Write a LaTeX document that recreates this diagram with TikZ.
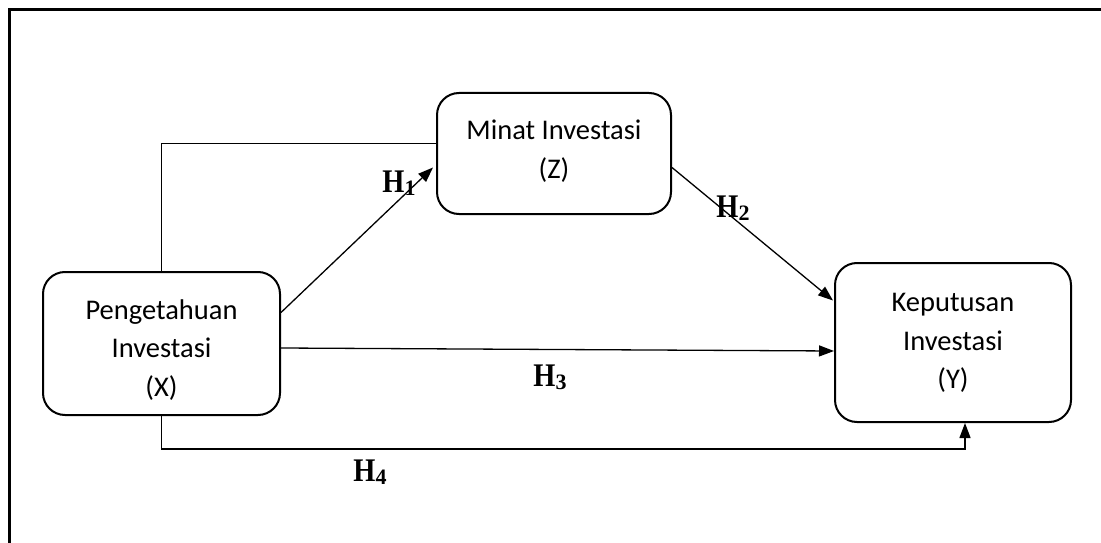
\documentclass[tikz,border=0pt]{standalone}
\usepackage{fontspec}
\usepackage{graphicx}
\setmainfont{Carlito}
\newfontfamily\hfont{Liberation Serif}
\usetikzlibrary{arrows.meta,calc}
\tikzset{
  varbox/.style={draw, line width=2pt, rounded corners=22pt, inner sep=0pt},
  boxtext/.style={align=center, inner sep=0pt, font=\fontsize{28.5}{38.5}\selectfont},
  conn/.style={line width=1.3pt},
  arr/.style={conn, -{Triangle[length=15pt,width=11pt]}},
  hlab/.style={inner sep=0pt, font=\hfont\bfseries\fontsize{33}{33}\selectfont}
}
\newcommand{\hl}[1]{\scalebox{0.86}[1]{H}\raisebox{-3pt}{\hfont\bfseries\fontsize{22}{22}\selectfont #1}}
\begin{document}
\begin{tikzpicture}[x=1pt,y=-1pt]
\useasboundingbox (0,0) rectangle (1101,543);
\draw[line width=2.6pt] (9.5,543) -- (9.5,9.5) -- (1101,9.5);
\node[varbox, minimum width=237pt, minimum height=143pt] (X) at (161.5,343.5) {};
\node[boxtext] (Xt) at (161.5,350) {Pengetahuan\\Investasi\\(X)};
\node[varbox, minimum width=234pt, minimum height=121pt] (Z) at (554,153.5) {};
\node[boxtext] (Zt) at (554,151) {Minat Investasi\\(Z)};
\node[varbox, minimum width=236pt, minimum height=159pt] (Y) at (953,342.5) {};
\node[boxtext] (Yt) at (953,343) {Keputusan\\Investasi\\(Y)};
\draw[conn] (X.north) |- ($(Z.west)+(0,-10)$);
\draw[arr] ($(X.east)+(0,-31)$) -- ($(Z.west)+(-3,14)$);
\draw[arr] ($(Z.east)+(0,14)$) -- ($(Y.west)+(-1,-42)$);
\draw[arr] ($(X.east)+(0,4.5)$) -- ($(Y.west)+(0,8.5)$);
\draw[arr] (X.south) -- ++(0,33) -| ($(Y.south)+(12,0)$);
\node[hlab] (h1) at (399,183) {\hl{1}};
\node[hlab] (h2) at (733,208) {\hl{2}};
\node[hlab] (h3) at (550,377) {\hl{3}};
\node[hlab] (h4) at (370,472) {\hl{4}};
\end{tikzpicture}
\end{document}
